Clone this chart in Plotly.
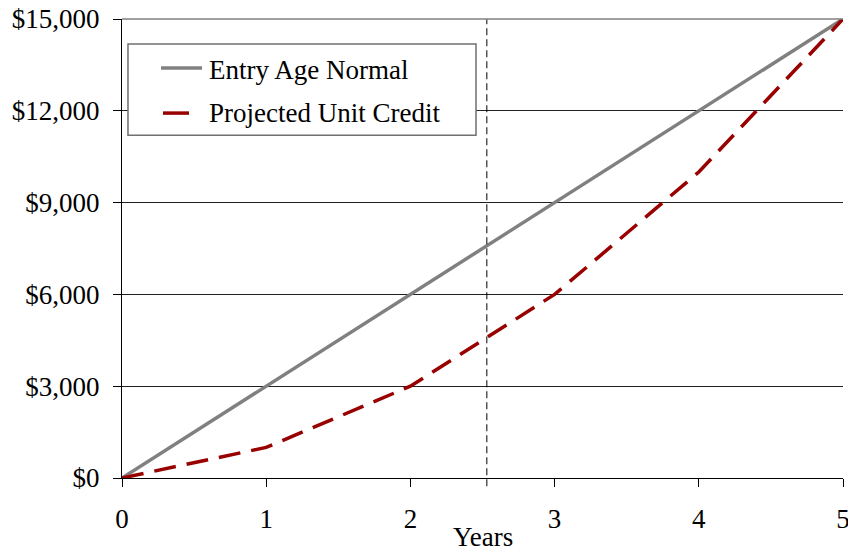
import plotly.graph_objects as go

years = [0, 1, 2, 3, 4, 5]
entry_age_normal = [0, 3000, 6000, 9000, 12000, 15000]
projected_unit_credit = [0, 1000, 3000, 6000, 10000, 15000]
marker_year = 2.53
y_ticks = [0, 3000, 6000, 9000, 12000, 15000]
y_tick_labels = ["$0", "$3,000", "$6,000", "$9,000", "$12,000", "$15,000"]
series_names = ["Entry Age Normal", "Projected Unit Credit"]
series_colors = ["#808080", "#990000"]

FONT = "Liberation Serif, Times New Roman, serif"
FS = 27

fig = go.Figure()
fig.add_trace(go.Scatter(x=years, y=entry_age_normal, mode="lines",
                         name=series_names[0], showlegend=False,
                         line=dict(color=series_colors[0], width=3.5)))
fig.add_trace(go.Scatter(x=years, y=projected_unit_credit, mode="lines",
                         name=series_names[1], showlegend=False,
                         line=dict(color=series_colors[1], width=3.5, dash="22px,11px")))

# vertical dashed marker
fig.add_shape(type="line", xref="x", yref="paper", x0=marker_year, x1=marker_year,
              y0=-0.018, y1=1, line=dict(color="black", width=1, dash="7px,4px"))
# top border line (gray)
fig.add_shape(type="line", xref="paper", yref="paper", x0=0, x1=1, y0=1, y1=1,
              line=dict(color="#808080", width=1.5))

# legend box (custom, to match layout)
fig.add_shape(type="rect", xref="paper", yref="paper", x0=0.0083, x1=0.491,
              y0=0.747, y1=0.9455, line=dict(color="#707070", width=1.5),
              fillcolor="white", layer="above")
fig.add_shape(type="line", xref="paper", yref="paper", x0=0.0541, x1=0.111,
              y0=0.893, y1=0.893, line=dict(color=series_colors[0], width=3.5),
              layer="above")
fig.add_shape(type="line", xref="paper", yref="paper", x0=0.0569, x1=0.0929,
              y0=0.795, y1=0.795, line=dict(color=series_colors[1], width=3.5),
              layer="above")
for name, yy in zip(series_names, [0.889, 0.795]):
    fig.add_annotation(text=name, xref="paper", yref="paper", x=0.1179, y=yy,
                       xanchor="left", yanchor="middle", showarrow=False,
                       font=dict(family=FONT, size=FS, color="black"))

fig.add_annotation(text="Years", xref="paper", yref="paper", x=0.5, y=-0.1285,
                   xanchor="center", yanchor="middle", showarrow=False,
                   font=dict(family=FONT, size=FS, color="black"))

fig.update_layout(
    width=848, height=552,
    margin=dict(l=122, r=5, t=19, b=74, autoexpand=False),
    plot_bgcolor="white", paper_bgcolor="white",
    font=dict(family=FONT, size=FS, color="black"),
    showlegend=False,
    xaxis=dict(range=[0, 5], tickvals=years, ticks="outside", ticklen=8,
               tickcolor="black", showline=True, linecolor="black", linewidth=1,
               showgrid=False, zeroline=False, ticklabelstandoff=9,
               ticklabeloverflow="allow", automargin=False),
    yaxis=dict(range=[0, 15000], tickvals=y_ticks, ticktext=y_tick_labels,
               ticks="outside", ticklen=8, tickcolor="black", showline=True,
               linecolor="black", linewidth=1, showgrid=True, gridcolor="#202020",
               gridwidth=1, zeroline=False, ticklabelstandoff=8, automargin=False),
)

fig.write_html("out.html", config={"displayModeBar": False},
               post_script="document.body.style.margin='0px';")
